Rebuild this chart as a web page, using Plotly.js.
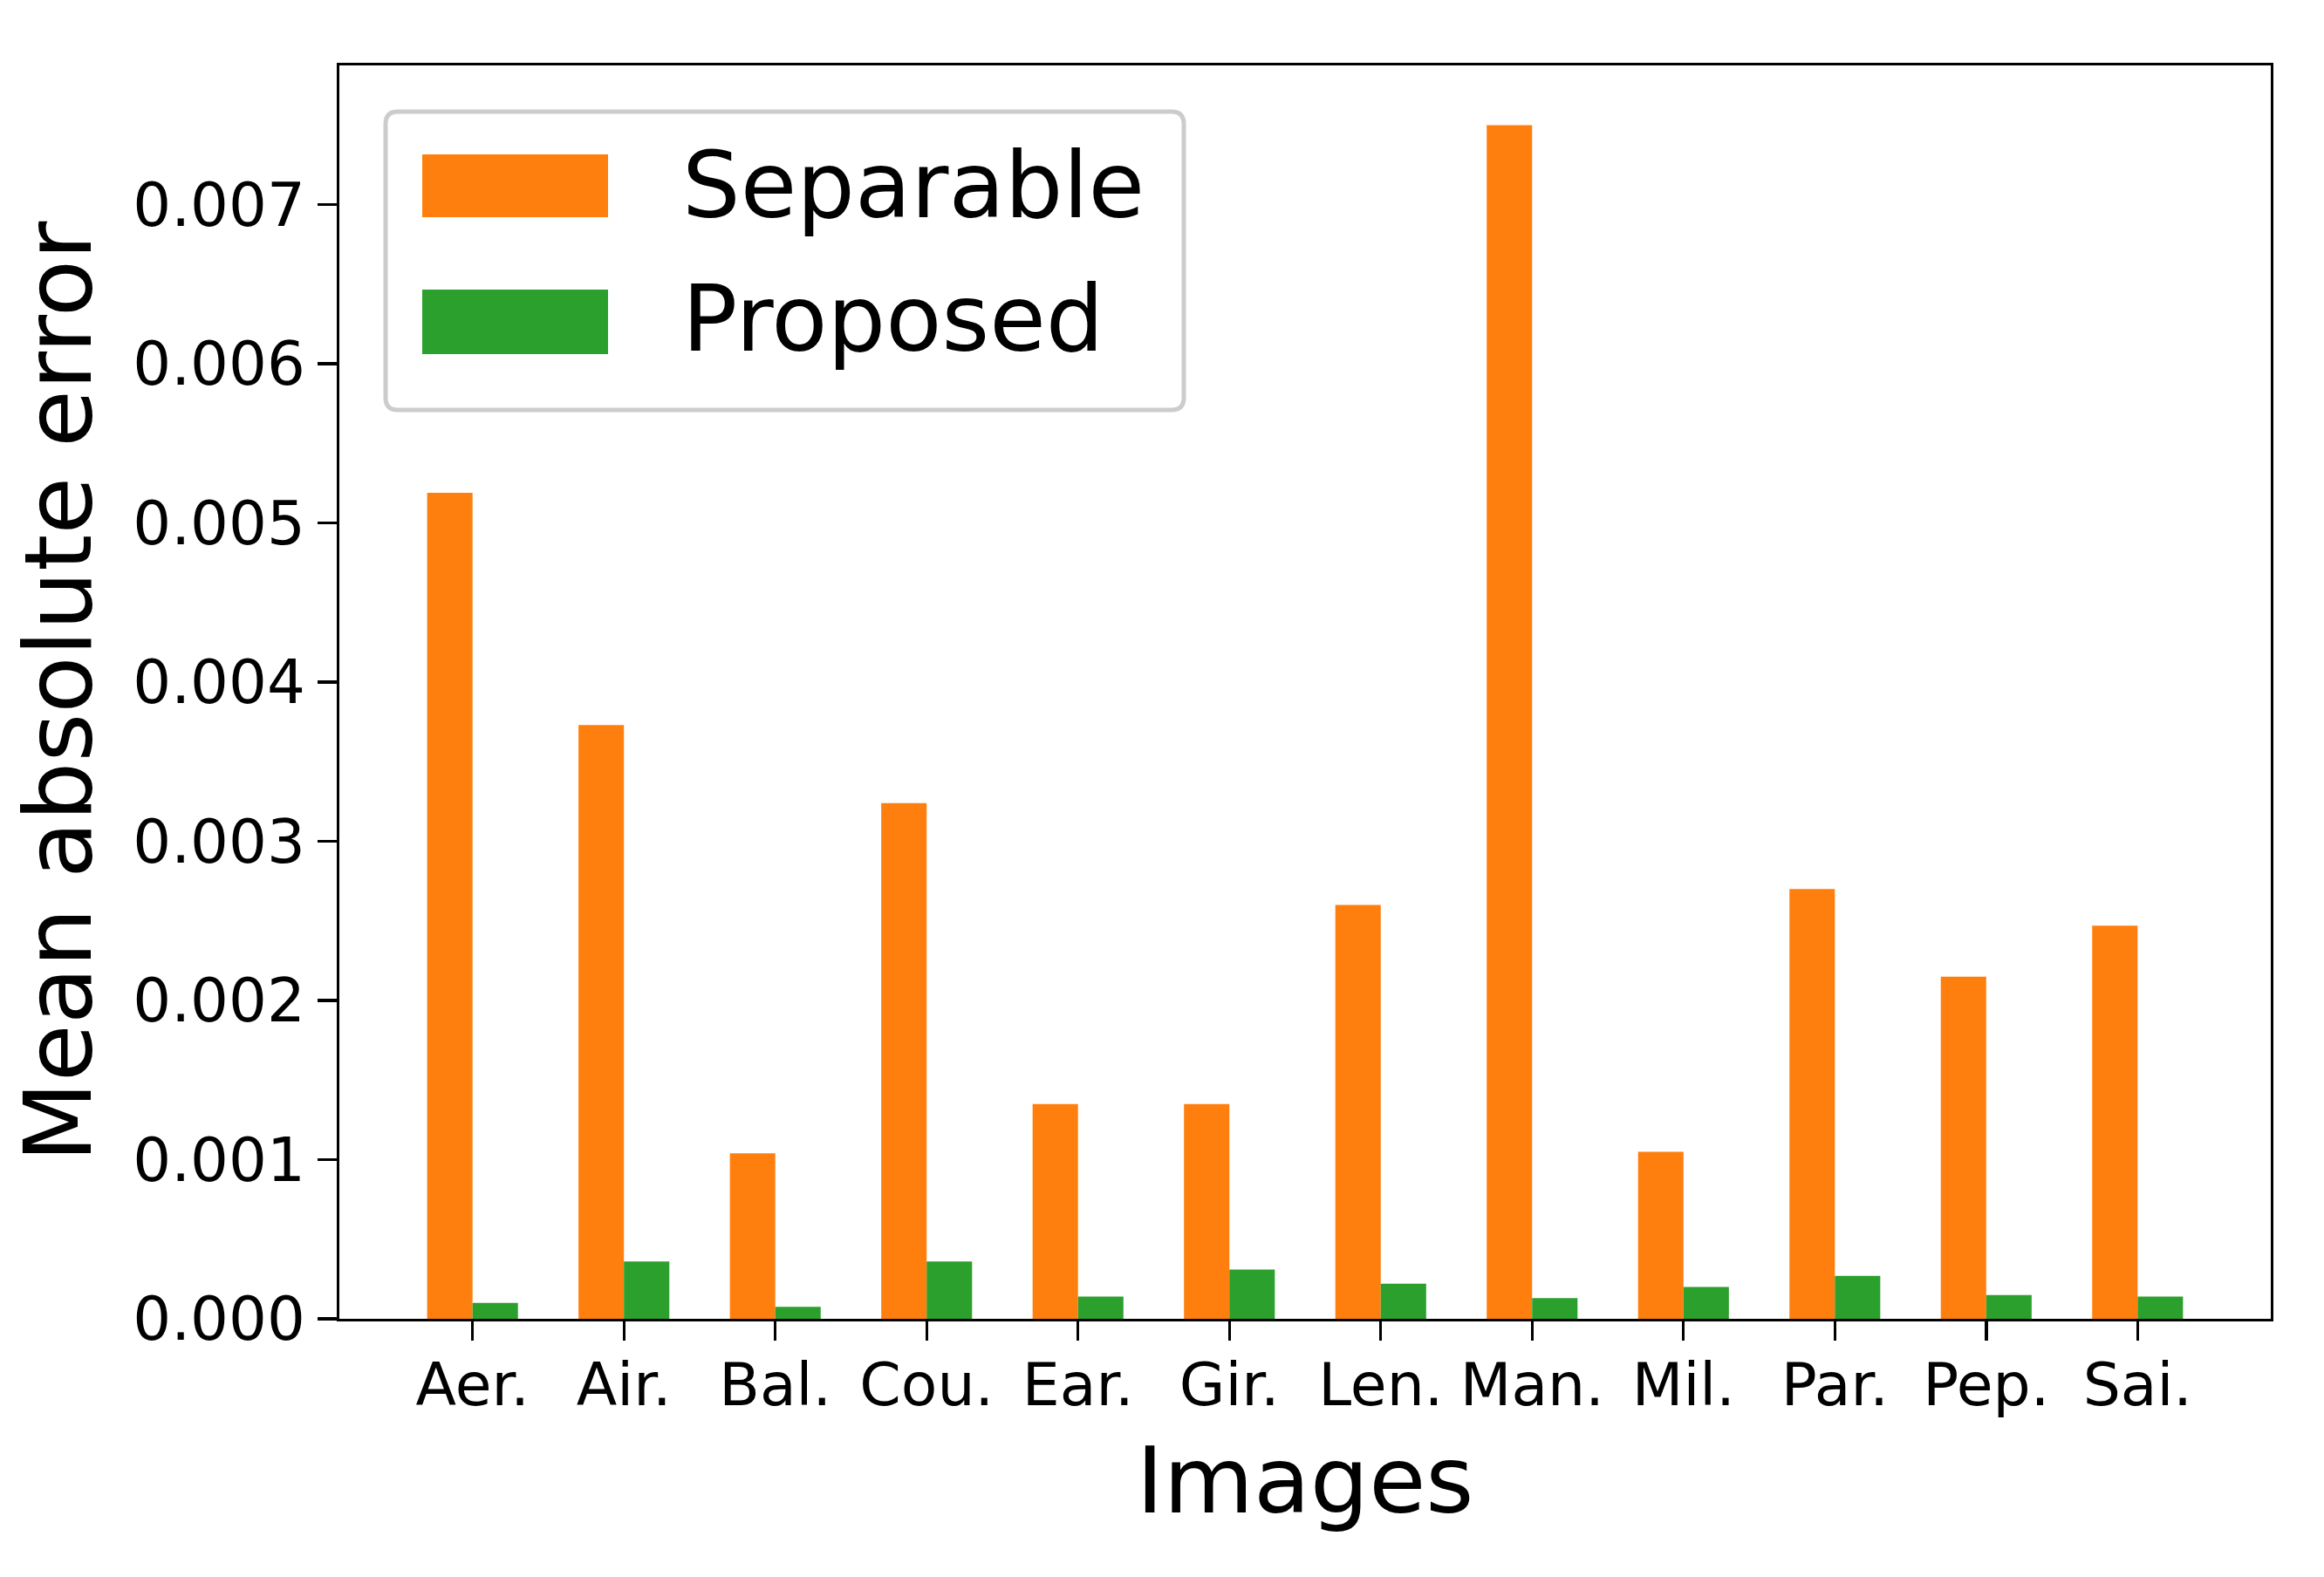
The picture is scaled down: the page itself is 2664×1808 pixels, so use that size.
<!DOCTYPE html>
<html>
<head>
<meta charset="utf-8">
<script src="https://cdn.plot.ly/plotly-3.0.1.min.js"></script>
<style>
  html, body { margin: 0; padding: 0; background: #fff; }
  #chart { width: 2664px; height: 1808px; }
</style>
</head>
<body>
<div id="chart"></div>
<script>
// values
const images = ['Aer.', 'Air.', 'Bal.', 'Cou.', 'Ear.', 'Gir.', 'Len.', 'Man.', 'Mil.', 'Par.', 'Pep.', 'Sai.'];
const separable = [0.00519, 0.00373, 0.00104, 0.00324, 0.00135, 0.00135, 0.00260, 0.00750, 0.00105, 0.00270, 0.00215, 0.00247];
const proposed = [0.00010, 0.00036, 0.000075, 0.00036, 0.00014, 0.00031, 0.00022, 0.00013, 0.00020, 0.00027, 0.00015, 0.00014];
const seriesNames = ['Separable', 'Proposed'];
const yTitle = 'Mean absolute error';

const COLORS = {
    orange: '#ff7f0e',
    green: '#2ca02c',
    frame: '#cccccc'
};
const FONT = 'DejaVu Sans, sans-serif';

// plot area in pixels
const M = {l: 389, r: 61, t: 75, b: 296};
const W = 2664, H = 1808;
const PW = W - M.l - M.r, PH = H - M.t - M.b;
const px = x => (x - M.l) / PW;
const py = y => (H - M.b - y) / PH;

function roundedRect(x0, y0, x1, y1, r) {
    const rx = r / PW, ry = r / PH;
    const a = px(x0), b = px(x1), top = py(y0), bot = py(y1);
    return `M${a + rx},${top} L${b - rx},${top} Q${b},${top} ${b},${top - ry} ` +
        `L${b},${bot + ry} Q${b},${bot} ${b - rx},${bot} L${a + rx},${bot} ` +
        `Q${a},${bot} ${a},${bot + ry} L${a},${top - ry} Q${a},${top} ${a + rx},${top} Z`;
}

const sepTrace = {
    x: images,
    y: separable,
    type: 'bar',
    name: seriesNames[0],
    marker: {color: COLORS.orange, line: {width: 0}},
    showlegend: false
};

const propTrace = {
    x: images,
    y: proposed,
    type: 'bar',
    name: seriesNames[1],
    marker: {color: COLORS.green, line: {width: 0}},
    showlegend: false
};

// hand-drawn legend, matplotlib style (big patches, rounded frame)
const legendShapes = [
    {type: 'path', xref: 'paper', yref: 'paper', path: roundedRect(442, 128, 1357, 470, 14),
        fillcolor: 'rgba(255,255,255,0.8)', line: {color: COLORS.frame, width: 5}},
    {type: 'rect', xref: 'paper', yref: 'paper', x0: px(484), x1: px(697), y0: py(177), y1: py(249),
        fillcolor: COLORS.orange, line: {width: 0}},
    {type: 'rect', xref: 'paper', yref: 'paper', x0: px(484), x1: px(697), y0: py(332), y1: py(406),
        fillcolor: COLORS.green, line: {width: 0}}
];

const textAnnotations = [
    {xref: 'paper', yref: 'paper', x: px(780), y: py(213), xanchor: 'left', yanchor: 'middle',
        text: seriesNames[0], showarrow: false, font: {family: FONT, size: 105, color: '#000'}},
    {xref: 'paper', yref: 'paper', x: px(780), y: py(366), xanchor: 'left', yanchor: 'middle',
        text: seriesNames[1], showarrow: false, font: {family: FONT, size: 105, color: '#000'}},
    // y axis title placed by hand so it sits where matplotlib put it
    {xref: 'paper', yref: 'paper', x: px(66), y: 0.5, xanchor: 'center', yanchor: 'middle',
        textangle: -90, text: yTitle, showarrow: false, font: {family: FONT, size: 107, color: '#000'}}
];

const layout = {
    width: W,
    height: H,
    margin: M,
    paper_bgcolor: '#fff',
    plot_bgcolor: '#fff',
    barmode: 'group',
    bargap: 0.4,
    bargroupgap: 0,
    font: {family: FONT, color: '#000'},
    xaxis: {
        title: {text: 'Images', font: {family: FONT, size: 106}, standoff: 34},
        range: [-0.88, 11.88],
        showline: true, mirror: true, linecolor: '#000', linewidth: 3.4,
        ticks: 'outside', ticklen: 22, tickwidth: 3.4, tickcolor: '#000',
        tickfont: {family: FONT, size: 68},
        ticklabelstandoff: -8,
        showgrid: false, zeroline: false
    },
    yaxis: {
        range: [0, 0.007875],
        dtick: 0.001,
        tickformat: '.3f',
        showline: true, mirror: true, linecolor: '#000', linewidth: 3.4,
        ticks: 'outside', ticklen: 22, tickwidth: 3.4, tickcolor: '#000',
        tickfont: {family: FONT, size: 69},
        showgrid: false, zeroline: false
    },
    shapes: legendShapes,
    annotations: textAnnotations
};

Plotly.newPlot('chart', [sepTrace, propTrace], layout, {displayModeBar: false, staticPlot: true});
</script>
</body>
</html>
